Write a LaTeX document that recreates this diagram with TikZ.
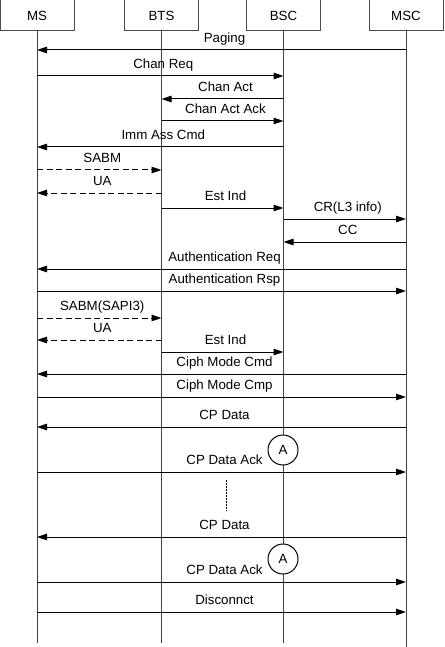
\documentclass[tikz,border=0pt]{standalone}
\usepackage{fontspec}
\setmainfont{Liberation Sans}
\usetikzlibrary{arrows.meta}

\tikzset{
    entity/.style={draw=black!70, minimum width=74pt, minimum height=31pt, inner sep=0pt},
    life/.style={draw=black!75},
    msg/.style={-{Triangle[length=10pt,width=6.5pt]}},
    dmsg/.style={msg, dash pattern=on 6pt off 3.5pt},
    lbl/.style={anchor=base, yshift=7.5pt, xshift=3pt, inner sep=0pt},
    timer/.style={draw, circle, fill=white, minimum size=30pt, inner sep=0pt}
}

\begin{document}
\begin{tikzpicture}[x=1pt, y=-1pt, line width=1pt, font=\fontsize{13.3}{15}\selectfont]
        \useasboundingbox (0,0) rectangle (444,647);
        \node[entity] (MS)  at (37,15.5)  {MS};
        \node[entity] (BTS) at (161.5,15.5) {BTS};
        \node[entity] (BSC) at (283.5,15.5) {BSC};
        \node[entity] (MSC) at (406,15.5) {MSC};
        \foreach \e/\l in {MS/643,BTS/643,BSC/643,MSC/647}
            \draw[life] (\e.south) -- (\e |- 0,\l);
        \foreach \y/\a/\b/\txt/\st in {
            50/MSC/MS/Paging/msg,
            76/MS/BSC/Chan Req/msg,
            99/BSC/BTS/Chan Act/msg,
            121/BTS/BSC/Chan Act Ack/msg,
            147/BSC/MS/Imm Ass Cmd/msg,
            170/MS/BTS/SABM/dmsg,
            193/BTS/MS/UA/dmsg,
            208/BTS/BSC/Est Ind/msg,
            219/BSC/MSC/CR(L3 info)/msg,
            242/MSC/BSC/CC/msg,
            269/MSC/MS/Authentication Req/msg,
            291/MS/MSC/Authentication Rsp/msg,
            318/MS/BTS/SABM(SAPI3)/dmsg,
            340/BTS/MS/UA/dmsg,
            352/BTS/BSC/Est Ind/msg,
            374/MSC/MS/Ciph Mode Cmd/msg,
            397/MS/MSC/Ciph Mode Cmp/msg,
            427/MSC/MS/CP Data/msg,
            472/MS/MSC/CP Data Ack/msg,
            537/MSC/MS/CP Data/msg,
            582/MS/MSC/CP Data Ack/msg,
            612/MS/MSC/Disconnct/msg}
            \draw[\st] (\a |- 0,\y) -- node[lbl]{\txt} (\b |- 0,\y);
        % timers
        \node[timer] (A1) at (283,450) {A};
        \node[timer] (A2) at (283,559) {A};
        % gap
        \coordinate (d1) at (226,480);
        \coordinate (d2) at (226,511);
        \draw[dash pattern=on 2pt off 1pt] (d1) -- (d2);
    \end{tikzpicture}
\end{document}
